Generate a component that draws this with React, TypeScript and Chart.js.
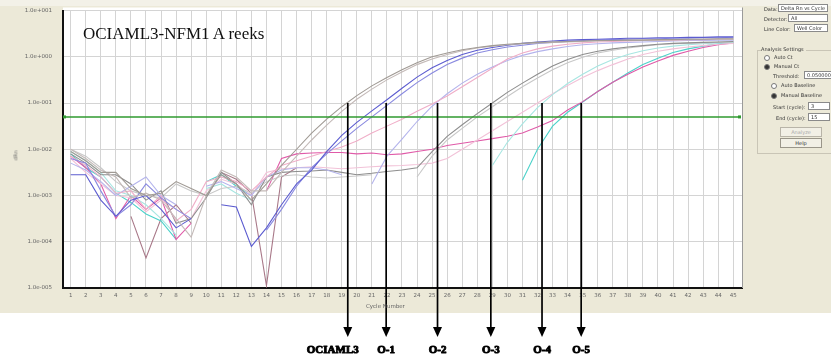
import React, { useEffect, useRef } from 'react';
import { Chart, registerables } from 'chart.js';

Chart.register(...registerables);

// ---------- data ----------
const cycles = [1,2,3,4,5,6,7,8,9,10,11,12,13,14,15,16,17,18,19,20,21,22,23,24,25,26,27,28,29,30,31,32,33,34,35,36,37,38,39,40,41,42,43,44,45];

// Delta Rn values, given as log10 exponents (null = no value)
const greyA = [-2.05,-2.25,-2.5,-2.5,-2.85,-3.0,-2.95,-2.7,-2.85,-3.0,-2.55,-2.75,-3.1,
  -2.75,-2.35,-2.0,-1.65,-1.35,-1.08,-0.84,-0.63,-0.45,-0.28,-0.13,0.0,
  0.08,0.15,0.2,0.24,0.27,0.29,0.31,0.32,0.33,0.34,0.35,0.35,0.36,0.36,0.37,0.37,0.38,0.38,0.39,0.39];
const greyB = [-2.0,-2.2,-2.45,-2.6,-3.05,-2.95,-3.1,-3.5,-3.9,-3.0,-2.45,-2.6,-2.9,
  -2.9,-2.5,-2.15,-1.8,-1.48,-1.18,-0.92,-0.7,-0.5,-0.33,-0.17,-0.05,
  0.05,0.13,0.19,0.23,0.26,0.28,0.3,0.31,0.32,0.33,0.34,0.35,0.35,0.36,0.36,0.37,0.37,0.38,0.38,0.38];
const blueC = [-2.55,-2.55,-3.1,-3.45,-3.1,-3.0,-3.3,-3.7,-3.5,null,-3.2,-3.25,-4.1,
  -3.7,-3.2,-2.75,-2.45,-2.05,-1.7,-1.42,-1.17,-0.93,-0.68,-0.44,-0.24,
  -0.08,0.05,0.14,0.2,0.25,0.29,0.32,0.34,0.36,0.37,0.38,0.39,0.4,0.4,0.41,0.41,0.42,0.42,0.43,0.43];
const blueD = [-2.2,-2.3,-2.9,-3.45,-3.2,-2.75,-3.05,-3.3,-3.5,null,null,null,null,
  -3.75,-3.3,-2.8,-2.4,-2.1,-1.82,-1.55,-1.3,-1.05,-0.8,-0.56,-0.35,
  -0.17,-0.03,0.08,0.15,0.21,0.25,0.29,0.31,0.33,0.35,0.36,0.37,0.38,0.39,0.39,0.4,0.4,0.41,0.41,0.42];
const pinkE = [-2.15,-2.35,-2.6,-2.95,-2.9,-3.3,-3.0,-3.55,-3.3,-2.7,-2.6,-2.7,-2.9,
  -2.6,-2.35,-2.25,-2.15,-2.05,-1.95,-1.82,-1.65,-1.5,-1.35,-1.18,-1.02,
  -0.85,-0.65,-0.45,-0.25,-0.05,0.08,0.17,0.23,0.27,0.3,0.32,0.33,0.34,0.35,0.36,0.36,0.37,0.37,0.38,0.38];
const lavenderF = [-2.3,-2.45,-2.7,-3.0,-2.8,-2.6,-3.0,-3.2,null,-2.8,-2.7,-2.85,-3.0,
  -2.6,-2.45,-2.4,-2.4,-2.45,-2.55,null,-2.75,-2.15,-1.78,-1.4,-1.07,
  -0.8,-0.57,-0.38,-0.22,-0.08,0.03,0.11,0.17,0.22,0.26,0.28,0.3,0.31,0.32,0.33,0.34,0.35,0.35,0.36,0.36];
const greyG = [-2.1,-2.3,-2.55,-2.55,-2.75,-3.1,-2.9,-3.6,-3.5,-3.05,-2.5,-2.75,-3.2,
  -2.6,-2.5,-2.48,-2.47,-2.45,-2.5,-2.55,-2.52,-2.48,-2.45,-2.4,-2.05,
  -1.72,-1.47,-1.23,-1.0,-0.77,-0.57,-0.38,-0.2,-0.06,0.05,0.12,0.17,0.21,0.24,0.27,0.29,0.3,0.31,0.32,0.33];
const greyH = [-2.0,-2.15,-2.4,-2.7,-2.9,-3.0,-3.05,-2.75,-2.9,-3.0,-2.85,-2.8,-2.95,
  -2.7,-2.58,-2.55,-2.6,-2.62,-2.6,-2.58,-2.55,null,null,-2.6,-2.15,
  -1.8,-1.55,-1.3,-1.08,-0.86,-0.65,-0.46,-0.28,-0.13,-0.01,0.08,0.14,0.19,0.23,0.26,0.28,0.29,0.3,0.31,0.32];
const cyanI = [-2.05,-2.25,-2.5,-2.9,-3.0,-3.2,-3.5,-3.85,null,-2.85,-2.75,-2.95,-3.1,
  null,null,null,null,null,null,null,null,null,null,null,null,
  null,null,null,-2.35,-1.85,-1.45,-1.1,-0.82,-0.58,-0.38,-0.2,-0.06,0.05,0.13,0.19,0.23,0.26,0.28,0.3,0.31];
const pinkJ = [-2.2,-2.5,-2.75,-3.0,-3.05,-3.35,-3.1,-3.3,-3.5,-2.9,-2.65,-2.75,-3.0,
  -2.5,-2.42,-2.4,-2.38,-2.4,-2.42,-2.4,-2.38,-2.36,-2.35,-2.33,-2.3,
  -2.2,-2.0,-1.8,-1.6,-1.4,-1.2,-1.0,-0.8,-0.62,-0.45,-0.3,-0.17,-0.05,0.05,0.12,0.17,0.21,0.24,0.27,0.29];
const magentaK = [-2.15,-2.4,-2.75,-3.5,-3.0,-3.3,-3.05,-3.95,-3.6,null,null,null,null,
  -2.9,-2.2,-2.1,-2.08,-2.07,-2.07,-2.1,-2.08,-2.12,-2.1,-2.05,-2.0,
  -1.92,-1.87,-1.82,-1.77,-1.72,-1.65,-1.52,-1.38,-1.15,-0.97,-0.75,-0.55,-0.38,-0.22,-0.09,0.03,0.12,0.2,0.26,0.3];
const cyanL = [-2.1,-2.4,-2.6,-2.95,-3.15,-3.4,-3.55,-3.95,null,-2.7,-2.55,-2.8,-3.0,
  null,null,null,null,null,null,null,null,null,null,null,null,
  null,null,null,null,null,-2.67,-2.0,-1.5,-1.2,-0.98,-0.75,-0.55,-0.35,-0.17,-0.03,0.09,0.17,0.23,0.28,0.31];
const mauveM = [null,null,null,null,-3.45,-4.35,-3.5,-3.2,-3.6,null,-2.5,-2.65,-2.95,
  -4.95,-2.6,-2.4,null,null,null,null,null,null,null,null,null,
  null,null,null,null,null,null,null,null,null,null,null,null,null,null,null,null,null,null,null,null];

const seriesList = [greyA, greyB, blueC, blueD, pinkE, lavenderF, greyG, greyH, cyanI, pinkJ, magentaK, cyanL, mauveM];
const seriesColors = ['#a09a94','#c4bab8','#5c5cd0','#8a8ae0','#f0aec8','#b4b4ec','#8e8e8e','#c8c8c8','#a8e6e2','#f2c2d8','#e05aa8','#4cd2ca','#a87888'];

const yTickValues = [1e-5, 1e-4, 1e-3, 1e-2, 1e-1, 1e0, 1e1];
const yTickLabels = ['1.0e-005','1.0e-004','1.0e-003','1.0e-002','1.0e-001','1.0e+000','1.0e+001'];

const THRESHOLD = 0.05;
const CT_LEVEL = 0.1;
const ctCycles = [19.4, 21.95, 25.36, 28.9, 32.3, 34.9];
const ctLabels = ['OCIAML3', 'O-1', 'O-2', 'O-3', 'O-4', 'O-5'];
const ctLabelShift = [-15, 0, 0, 0, 0, 0];

const decorPlugin = {
  id: 'decor',
  beforeDraw(chart: any) {
    const { ctx, chartArea } = chart;
    const { left, top, right, bottom } = chartArea;
    ctx.save();
    ctx.fillStyle = '#ffffff';
    ctx.fillRect(0, 0, chart.width, chart.height);
    ctx.fillStyle = '#ece9d8';
    ctx.fillRect(0, 0, chart.width, 313);
    ctx.fillStyle = '#f3f1e8';
    ctx.fillRect(0, 0, chart.width, 6);
    ctx.fillStyle = '#ffffff';
    ctx.fillRect(left, top - 3, right - left, bottom - top + 3);
    ctx.restore();
  },
  afterDatasetsDraw(chart: any) {
    const { ctx, chartArea, scales } = chart;
    const { left, top, right, bottom } = chartArea;
    ctx.save();
    ctx.strokeStyle = '#9a9a9a';
    ctx.lineWidth = 1;
    ctx.beginPath();
    ctx.moveTo(right + 0.5, top - 3);
    ctx.lineTo(right + 0.5, bottom);
    ctx.stroke();
    // threshold
    const ty = scales.y.getPixelForValue(THRESHOLD);
    ctx.strokeStyle = '#2f9a2f';
    ctx.lineWidth = 1.5;
    ctx.beginPath();
    ctx.moveTo(left, ty);
    ctx.lineTo(right - 2, ty);
    ctx.stroke();
    ctx.fillStyle = '#2f9a2f';
    ctx.fillRect(right - 4, ty - 1.5, 3, 3);
    ctx.fillRect(left, ty - 1.5, 3, 3);
    // Ct arrows
    const y0 = scales.y.getPixelForValue(CT_LEVEL);
    ctx.strokeStyle = '#000';
    ctx.fillStyle = '#000';
    ctx.lineWidth = 1.7;
    ctCycles.forEach((c) => {
      const x = scales.x.getPixelForValue(c);
      ctx.beginPath();
      ctx.moveTo(x, y0);
      ctx.lineTo(x, 331);
      ctx.stroke();
      ctx.beginPath();
      ctx.moveTo(x - 4.5, 327);
      ctx.lineTo(x + 4.5, 327);
      ctx.lineTo(x, 337);
      ctx.closePath();
      ctx.fill();
    });
    ctx.font = 'bold 11px "Liberation Serif", serif';
    ctx.textAlign = 'center';
    ctx.textBaseline = 'middle';
    ctx.lineWidth = 0.9;
    ctx.lineJoin = 'round';
    ctCycles.forEach((c, i) => {
      const x = scales.x.getPixelForValue(c) + ctLabelShift[i];
      ctx.strokeText(ctLabels[i], x, 350);
      ctx.fillText(ctLabels[i], x, 350);
    });
    ctx.restore();
  },
};

const tiny = { fontFamily: '"DejaVu Sans", sans-serif', fontSize: 5, color: '#333', position: 'absolute' as const, whiteSpace: 'nowrap' as const, lineHeight: '7px' };
const boxStyle = (l: number, t: number, w: number) => ({
  ...tiny, left: l, top: t, width: w, height: 8, background: '#fff', border: '1px solid #8a8a8a', boxSizing: 'border-box' as const, paddingLeft: 2, lineHeight: '6px', overflow: 'hidden',
});

function Radio({ l, t, checked, label }: { l: number; t: number; checked?: boolean; label: string }) {
  return (
    <div style={{ ...tiny, left: l, top: t }}>
      <span style={{ display: 'inline-block', width: 4, height: 4, borderRadius: 3, border: '1px solid #777', background: checked ? '#333' : '#fff', marginRight: 4, verticalAlign: 'middle' }} />
      {label}
    </div>
  );
}

export default function App() {
  const ref = useRef<HTMLCanvasElement | null>(null);
  useEffect(() => {
    if (!ref.current) return;
    const datasets = seriesList.map((s, i) => ({
      data: cycles.map((c, j) => ({ x: c, y: s[j] === null ? null : Math.pow(10, s[j] as number) })),
      borderColor: seriesColors[i],
      borderWidth: 1.1,
      pointRadius: 0,
      tension: 0,
      spanGaps: false,
      fill: false,
    }));
    const chart = new Chart(ref.current, {
      type: 'line',
      data: { datasets },
      options: {
        animation: false,
        responsive: false,
        devicePixelRatio: 1,
        layout: { padding: { top: 10.5, right: 89, left: 0, bottom: 0 } },
        plugins: { legend: { display: false }, tooltip: { enabled: false } },
        scales: {
          x: {
            type: 'linear',
            min: 0.489,
            max: 45.58,
            afterFit: (scale: any) => { scale.height = 70; scale.paddingLeft = 0; scale.paddingRight = 0; },
            afterBuildTicks: (scale: any) => { scale.ticks = cycles.map((c) => ({ value: c })); },
            ticks: { autoSkip: false, maxRotation: 0, padding: 4, color: '#666', font: { size: 5.5, family: '"DejaVu Sans", sans-serif' }, callback: (v: any) => String(v) },
            grid: { color: '#d4d4d4', lineWidth: 1, drawTicks: false },
            border: { color: '#111', width: 2 },
          },
          y: {
            type: 'logarithmic',
            min: 1e-5,
            max: 10,
            afterFit: (scale: any) => { scale.width = 63; scale.paddingTop = 0; scale.paddingBottom = 0; },
            afterBuildTicks: (scale: any) => { scale.ticks = yTickValues.map((v) => ({ value: v })); },
            ticks: { padding: 11, color: '#666', font: { size: 5.5, family: '"DejaVu Sans", sans-serif' }, callback: (_v: any, i: number) => yTickLabels[i] },
            grid: { color: '#d4d4d4', lineWidth: 1, drawTicks: false },
            border: { color: '#111', width: 2 },
          },
        },
      },
      plugins: [decorPlugin],
    } as any);
    return () => chart.destroy();
  }, []);

  return (
    <div style={{ position: 'fixed', left: 0, top: 0, width: 831, height: 358, overflow: 'hidden' }}>
      <canvas ref={ref} width={831} height={358} style={{ display: 'block', width: 831, height: 358 }} />
      <div style={{ position: 'absolute', left: 83, top: 24, fontFamily: '"Liberation Serif", serif', fontSize: 17, color: '#111', whiteSpace: 'nowrap', lineHeight: '20px' }}>OCIAML3-NFM1 A reeks</div>
      <div style={{ ...tiny, left: 11, top: 152, transform: 'rotate(-90deg)', color: '#666' }}>dRn</div>
      <div style={{ ...tiny, left: 366, top: 303, color: '#666', fontSize: 5.5 }}>Cycle Number</div>

      <div style={{ ...tiny, left: 764, top: 6 }}>Data:</div>
      <div style={boxStyle(778, 4, 50)}>Delta Rn vs Cycle</div>
      <div style={{ ...tiny, left: 764, top: 16 }}>Detector:</div>
      <div style={boxStyle(788, 14, 40)}>All</div>
      <div style={{ ...tiny, left: 764, top: 26 }}>Line Color:</div>
      <div style={boxStyle(794, 24, 34)}>Well Color</div>

      <div style={{ position: 'absolute', left: 757, top: 50, width: 90, height: 104, border: '1px solid #c9c5b6', boxSizing: 'border-box' }} />
      <div style={{ ...tiny, left: 761, top: 46, background: '#ece9d8', paddingRight: 2 }}>Analysis Settings</div>
      <Radio l={764} t={54} label="Auto Ct" />
      <Radio l={764} t={63} checked label="Manual Ct" />
      <div style={{ ...tiny, left: 773, top: 73 }}>Threshold:</div>
      <div style={boxStyle(804, 71, 30)}>0.0500000</div>
      <Radio l={771} t={82} label="Auto Baseline" />
      <Radio l={771} t={92} checked label="Manual Baseline" />
      <div style={{ ...tiny, left: 773, top: 104 }}>Start (cycle):</div>
      <div style={boxStyle(808, 102, 22)}>3</div>
      <div style={{ ...tiny, left: 776, top: 115 }}>End (cycle):</div>
      <div style={boxStyle(808, 113, 22)}>15</div>
      <div style={{ ...tiny, left: 780, top: 127, width: 42, height: 10, border: '1px solid #b8b4a8', boxSizing: 'border-box', textAlign: 'center', color: '#aaa', lineHeight: '8px', background: '#f2f0e6' }}>Analyze</div>
      <div style={{ ...tiny, left: 780, top: 138, width: 42, height: 10, border: '1px solid #9a968a', boxSizing: 'border-box', textAlign: 'center', lineHeight: '8px', background: '#f2f0e6' }}>Help</div>
    </div>
  );
}
